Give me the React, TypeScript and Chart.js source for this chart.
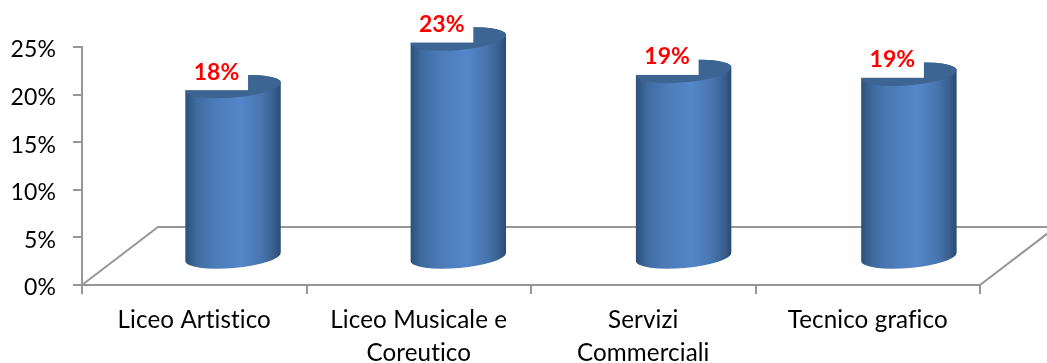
import React, { useEffect, useRef } from "react";
import { Chart, registerables } from "chart.js";

Chart.register(...registerables);

const categories: (string | string[])[] = [
  "Liceo Artistico",
  ["Liceo Musicale e", "Coreutico"],
  ["Servizi", "Commerciali"],
  "Tecnico grafico",
];
const shares = [18, 23, 19.6, 19.3];
const shareLabels = ["18%", "23%", "19%", "19%"];
const yTicks = [0, 5, 10, 15, 20, 25];

const FONT = "Lato, Carlito, 'Open Sans', sans-serif";
const GREY = "#979797";
const DEPTH_X = 76;
const DEPTH_Y = 58;
const BAR_DX = 38.4;
const BAR_DY = 27;
const BAR_SPREAD = 1.0035;

const cylinderPlugin = {
  id: "cylinders",
  beforeDraw(chart: any) {
    chart.ctx.letterSpacing = "0.1px";
  },
  beforeDatasetDraw() {
    return false;
  },
  beforeDatasetsDraw(chart: any) {
    const { ctx, chartArea: a } = chart;
    ctx.save();
    ctx.strokeStyle = GREY;
    ctx.lineWidth = 2;
    ctx.beginPath();
    ctx.moveTo(a.left, a.bottom);
    ctx.lineTo(a.left + DEPTH_X, a.bottom - DEPTH_Y);
    ctx.lineTo(a.right + DEPTH_X, a.bottom - DEPTH_Y);
    ctx.lineTo(a.right, a.bottom);
    ctx.stroke();
    ctx.restore();
  },
  afterDatasetsDraw(chart: any) {
    const { ctx, chartArea: a } = chart;
    const meta = chart.getDatasetMeta(0);
    meta.data.forEach((el: any, i: number) => {
      const p = el.getProps(["x", "y", "base", "width"], true);
      const cx = a.left + (p.x - a.left) * BAR_SPREAD + BAR_DX;
      const yTop = p.y - BAR_DY;
      const yBase = p.base - BAR_DY;
      const rot = (-5 * Math.PI) / 180;
      const rx = p.width / 2 / Math.cos(rot);
      const ry = 11;
      const l = cx - p.width / 2;
      const r = cx + p.width / 2;
      ctx.save();
      const g = ctx.createLinearGradient(l, 0, r, 0);
      g.addColorStop(0, "#2c5079");
      g.addColorStop(0.12, "#3f6b9f");
      g.addColorStop(0.3, "#4b7ab6");
      g.addColorStop(0.58, "#5486c9");
      g.addColorStop(0.8, "#4775ae");
      g.addColorStop(0.93, "#385e8d");
      g.addColorStop(1, "#2a4a70");
      ctx.beginPath();
      ctx.ellipse(cx, yBase, rx, ry, rot, 0, Math.PI);
      ctx.ellipse(cx, yTop, rx, ry, rot, Math.PI, Math.PI * 2);
      ctx.closePath();
      ctx.fillStyle = g;
      ctx.fill();
      ctx.beginPath();
      ctx.ellipse(cx, yTop, rx, ry, rot, 0, Math.PI * 2);
      ctx.fillStyle = "#3c6593";
      ctx.fill();
      ctx.fillStyle = "#ffffff";
      ctx.fillRect(l - 1, yTop - 34, p.width / 2 + 16, 37.5);
      ctx.fillStyle = "#ff0000";
      ctx.font = `bold 23px ${FONT}`;
      ctx.textAlign = "center";
      ctx.textBaseline = "middle";
      ctx.fillText(shareLabels[i], cx - 16.5, yTop - 14.5);
      ctx.restore();
    });
  },
};

export default function App() {
  const ref = useRef<HTMLCanvasElement>(null);
  useEffect(() => {
    const chart = new Chart(ref.current!, {
      type: "bar",
      data: {
        labels: categories as any,
        datasets: [
          {
            data: shares,
            backgroundColor: "#4f81bd",
            barPercentage: 0.425,
            categoryPercentage: 1,
          },
        ],
      },
      plugins: [cylinderPlugin],
      options: {
        responsive: false,
        animation: false,
        layout: { padding: { left: 0, top: 47, right: 67, bottom: 0 } },
        plugins: { legend: { display: false }, title: { display: false }, tooltip: { enabled: false } },
        scales: {
          x: {
            grid: { drawOnChartArea: false, color: GREY, lineWidth: 2, tickLength: 9, offset: true },
            border: { color: GREY, width: 2 },
            ticks: {
              color: "#000000",
              font: { family: FONT, size: 24.2, lineHeight: 1.36 },
              maxRotation: 0,
              autoSkip: false,
              padding: 10,
            },
            afterFit: (s: any) => {
              s.height = 78;
            },
          },
          y: {
            min: 0,
            max: 25,
            afterBuildTicks: (s: any) => {
              s.ticks = yTicks.map((value) => ({ value }));
            },
            grid: { drawOnChartArea: false, color: GREY, lineWidth: 2, tickLength: 9 },
            border: { color: GREY, width: 2 },
            ticks: {
              color: "#000000",
              font: { family: FONT, size: 23 },
              padding: 17,
              labelOffset: 3,
              callback: (v: any) => `${v}%`,
            },
            afterFit: (s: any) => {
              s.width = 82;
            },
          },
        },
      },
    } as any);
    return () => chart.destroy();
  }, []);
  return (
    <div style={{ position: "absolute", left: 0, top: 0, width: 1047, height: 363, background: "#fff" }}>
      <canvas ref={ref} width={1047} height={363} style={{ display: "block" }} />
    </div>
  );
}
